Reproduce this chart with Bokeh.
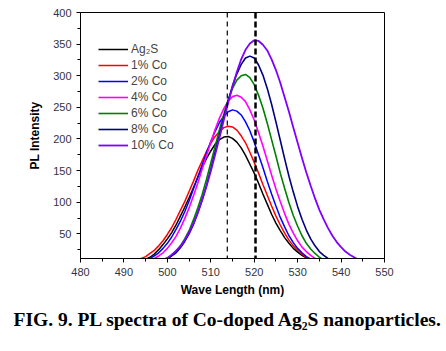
from bokeh.plotting import figure
from bokeh.models import (Range1d, FixedTicker, Span, Legend, LegendItem, Title, ColumnDataSource)
from bokeh.embed import file_html
from bokeh.resources import INLINE

wavelength = list(range(492, 546))

ag2s = [3, 5, 7, 10, 13, 18, 25, 33, 42, 52, 64, 78, 92, 107, 123, 139, 155, 169, 181, 192,
        199, 203, 204, 201, 195, 186, 174, 160, 146, 130, 113, 97, 81, 67, 55, 44, 35, 27, 21, 16,
        12, 9, 7, 5, 4, 3, 2, 2, 1, 1, 1, 1, 0, 0]
co1 = [6, 8, 11, 14, 19, 24, 31, 39, 49, 60, 73, 87, 101, 117, 133, 150, 165, 180, 193, 204,
       212, 218, 220, 219, 214, 205, 194, 179, 163, 146, 128, 111, 94, 78, 64, 51, 40, 31, 24, 18,
       13, 10, 7, 5, 4, 3, 2, 1, 1, 1, 0, 0, 0, 0]
co2 = [2, 4, 6, 8, 11, 15, 20, 27, 35, 45, 57, 70, 85, 102, 121, 140, 159, 178, 196, 212,
       226, 236, 243, 246, 244, 238, 227, 213, 195, 175, 155, 133, 113, 94, 76, 61, 47, 36, 27, 20,
       14, 10, 7, 5, 3, 2, 1, 1, 1, 0, 0, 0, 0, 0]
co4 = [1, 2, 3, 5, 7, 11, 15, 20, 27, 36, 46, 59, 74, 91, 110, 130, 152, 173, 195, 215,
       233, 248, 260, 267, 269, 266, 259, 246, 230, 210, 189, 166, 143, 121, 101, 82, 65, 51, 39, 29,
       22, 16, 11, 8, 5, 4, 2, 2, 1, 1, 0, 0, 0, 0]
co6 = [0, 0, 1, 1, 2, 3, 5, 8, 11, 16, 23, 31, 42, 55, 72, 91, 112, 136, 162, 188,
       215, 239, 262, 280, 293, 300, 302, 297, 286, 269, 249, 225, 199, 173, 146, 122, 99, 79, 62, 47,
       35, 26, 19, 13, 9, 6, 4, 3, 2, 1, 1, 0, 0, 0]
co8 = [0, 1, 1, 2, 2, 3, 5, 7, 10, 15, 20, 28, 38, 50, 65, 83, 103, 126, 152, 179,
       206, 234, 260, 284, 303, 318, 328, 331, 328, 317, 301, 280, 255, 227, 198, 169, 141, 116, 93, 73,
       56, 42, 31, 22, 16, 11, 7, 5, 3, 2, 1, 1, 0, 0]
co10 = [1, 1, 2, 2, 3, 4, 6, 9, 12, 17, 23, 30, 40, 52, 66, 83, 103, 125, 149, 175,
        202, 230, 257, 283, 306, 326, 341, 351, 356, 355, 349, 340, 326, 309, 289, 266, 243, 218, 194, 170,
        147, 126, 106, 88, 73, 59, 47, 37, 29, 22, 17, 13, 9, 7]

series_names = ["Ag\u2082S", "1% Co", "2% Co", "4% Co", "6% Co", "8% Co", "10% Co"]
series_values = [ag2s, co1, co2, co4, co6, co8, co10]
series_colors = ["#000000", "#ff0000", "#0000ff", "#ff00ff", "#008000", "#000080", "#8000ff"]
series_widths = [1.5, 1.5, 1.5, 1.6, 1.6, 1.6, 1.8]

peak_lines_nm = [513.8, 520.3]

x_ticks = [480, 490, 500, 510, 520, 530, 540, 550]
x_minor = [485, 495, 505, 515, 525, 535, 545]
y_ticks = [50, 100, 150, 200, 250, 300, 350, 400]
y_minor = [25, 75, 125, 175, 225, 275, 325, 375]

caption = "FIG. 9. PL spectra of Co-doped Ag\u2082S nanoparticles."

p = figure(width=446, height=351, output_backend="svg", toolbar_location=None,
           x_range=Range1d(480, 550), y_range=Range1d(11, 400),
           min_border_left=80, min_border_right=62, min_border_top=12, min_border_bottom=93)
p.background_fill_color = "white"
p.border_fill_color = "white"
p.outline_line_color = "black"
p.outline_line_width = 1
p.xgrid.visible = False
p.ygrid.visible = False

for ax, ticks, minor in ((p.xaxis[0], x_ticks, x_minor), (p.yaxis[0], y_ticks, y_minor)):
    ax.ticker = FixedTicker(ticks=ticks, minor_ticks=minor)
    ax.major_tick_in = 0
    ax.major_tick_out = 4
    ax.minor_tick_in = 0
    ax.minor_tick_out = 3
    ax.axis_line_color = "black"
    ax.major_tick_line_color = "black"
    ax.minor_tick_line_color = "black"
    ax.major_label_text_font = "Liberation Sans"
    ax.major_label_text_font_size = "11px"
    ax.major_label_text_color = "#333340"
    ax.major_label_standoff = 5
    ax.axis_label_text_font = "Liberation Sans"
    ax.axis_label_text_font_size = "12px"
    ax.axis_label_text_font_style = "bold"
    ax.axis_label_text_color = "black"

p.xaxis.axis_label = "Wave Length (nm)"
p.xaxis.axis_label_standoff = 4
p.yaxis.axis_label = "PL Intensity"
p.yaxis.axis_label_standoff = 8

renderers = []
for vals, col, lw in zip(series_values, series_colors, series_widths):
    src = ColumnDataSource(dict(x=wavelength, y=vals))
    r = p.line("x", "y", source=src, line_color=col, line_width=lw)
    renderers.append(r)

p.add_layout(Span(location=peak_lines_nm[0], dimension="height", line_color="black",
                  line_width=1.2, line_dash="5 4"))
p.add_layout(Span(location=peak_lines_nm[1], dimension="height", line_color="black",
                  line_width=2.5, line_dash="6 3"))

legend = Legend(items=[LegendItem(label=n, renderers=[r]) for n, r in zip(series_names, renderers)],
                location=(18, 106), padding=0, margin=0, spacing=2,
                glyph_width=30, glyph_height=14, label_height=14, label_standoff=3,
                label_text_font="Liberation Sans", label_text_font_size="12px",
                border_line_color=None, background_fill_alpha=0)
p.add_layout(legend)

p.add_layout(Title(text=caption, align="left", offset=-67, standoff=15,
                   text_font="Liberation Serif", text_font_size="19.5px",
                   text_font_style="bold", text_color="black"), "below")

open("out.html", "w").write(file_html(p, INLINE))
